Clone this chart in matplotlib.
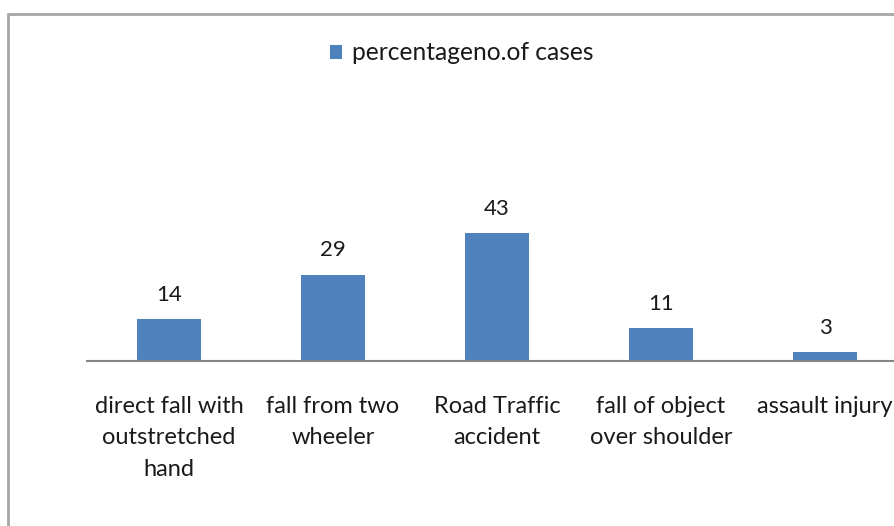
import matplotlib.pyplot as plt
from matplotlib.patches import Rectangle

kategori = ['direct fall with\noutstretched\nhand', 'fall from two\nwheeler',
            'Road Traffic\naccident', 'fall of object\nover shoulder', 'assault injury']
persen = [14, 29, 43, 11, 3]
judul_seri = 'percentageno.of cases'

plt.rcParams['font.family'] = ['Lato', 'DejaVu Sans']

W, H = 894, 526
fig = plt.figure(figsize=(W / 100, H / 100), dpi=100)

# bingkai abu-abu di sekeliling grafik (terpotong di kanan dan bawah)
fig.patches.append(Rectangle((8 / W, -0.1), 2, (H - 14) / H + 0.1,
                             transform=fig.transFigure, fill=False,
                             edgecolor='#a6a6a6', linewidth=2))

ax = fig.add_axes([87 / W, (H - 361) / H, 820 / W, 149 / H])
x = range(len(kategori))
bars = ax.bar(x, persen, width=0.39, color='#4f81bd', label=judul_seri)
ax.set_xlim(-0.5, len(kategori) - 0.5)
ax.set_ylim(0, 50)

for b, v in zip(bars, persen):
    ax.annotate(str(v), (b.get_x() + b.get_width() / 2, v),
                xytext=(0, 17.5), textcoords='offset points',
                ha='center', va='center', fontsize=16, color='#1a1a1a')

ax.set_xticks(list(x))
ax.set_xticklabels(kategori, fontsize=17, color='#1a1a1a', linespacing=1.62)
ax.tick_params(axis='x', length=0, pad=25)
ax.set_yticks([])
for s in ['top', 'right', 'left']:
    ax.spines[s].set_visible(False)
ax.spines['bottom'].set_color('#868686')
ax.spines['bottom'].set_linewidth(1.5)

fig.legend(loc='center', bbox_to_anchor=(462 / W, 1 - 53 / H), frameon=False,
           fontsize=17.7, handlelength=0.5, handleheight=0.5, handletextpad=0.4,
           labelcolor='#1a1a1a')

fig.savefig('out.png', dpi=100)
plt.close()
